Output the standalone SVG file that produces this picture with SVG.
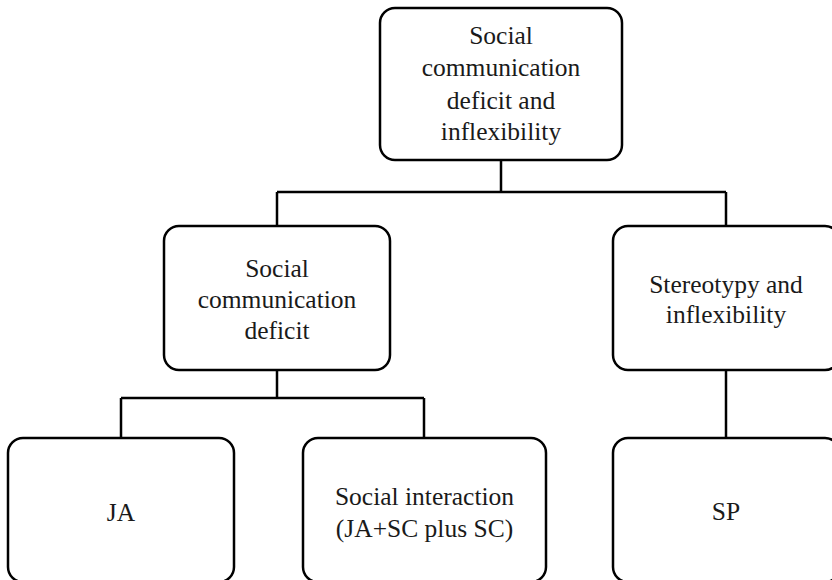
<svg xmlns="http://www.w3.org/2000/svg" width="832" height="580" viewBox="0 0 832 580">
<style>
.box{fill:#fff;stroke:#000;stroke-width:2.5}
.lbl{font-family:"Liberation Serif","Times New Roman",serif;font-size:25.5px;fill:#1a1a1a;text-anchor:middle}
.con{fill:none;stroke:#000;stroke-width:2.5}
</style>
<rect width="832" height="580" fill="#fff"/>
<g id="connectors">
<path class="con" d="M501,160 V192 M277,192 H726 M277,192 V226 M726,192 V226"/>
<path class="con" d="M277,370 V398 M121,398 H424 M121,398 V438 M424,398 V438"/>
<path class="con" d="M726,370 V438"/>
</g>
<g id="n-root">
<rect class="box" x="380" y="8" width="242" height="152" rx="15"/>
<text class="lbl" x="501" y="44">Social</text>
<text class="lbl" x="501" y="76">communication</text>
<text class="lbl" x="501" y="109">deficit and</text>
<text class="lbl" x="501" y="140">inflexibility</text>
</g>
<g id="n-scd">
<rect class="box" x="164" y="226" width="226" height="144" rx="15"/>
<text class="lbl" x="277" y="277">Social</text>
<text class="lbl" x="277" y="308">communication</text>
<text class="lbl" x="277" y="339">deficit</text>
</g>
<g id="n-stereo">
<rect class="box" x="613" y="226" width="227" height="144" rx="15"/>
<text class="lbl" x="726" y="293">Stereotypy and</text>
<text class="lbl" x="726" y="323">inflexibility</text>
</g>
<g id="n-ja">
<rect class="box" x="8" y="438" width="226" height="144" rx="15"/>
<text class="lbl" x="121" y="521">JA</text>
</g>
<g id="n-si">
<rect class="box" x="303" y="438" width="243" height="144" rx="15"/>
<text class="lbl" x="424.5" y="505">Social interaction</text>
<text class="lbl" x="424.5" y="537">(JA+SC plus SC)</text>
</g>
<g id="n-sp">
<rect class="box" x="613" y="438" width="227" height="144" rx="15"/>
<text class="lbl" x="726" y="520">SP</text>
</g>
</svg>
